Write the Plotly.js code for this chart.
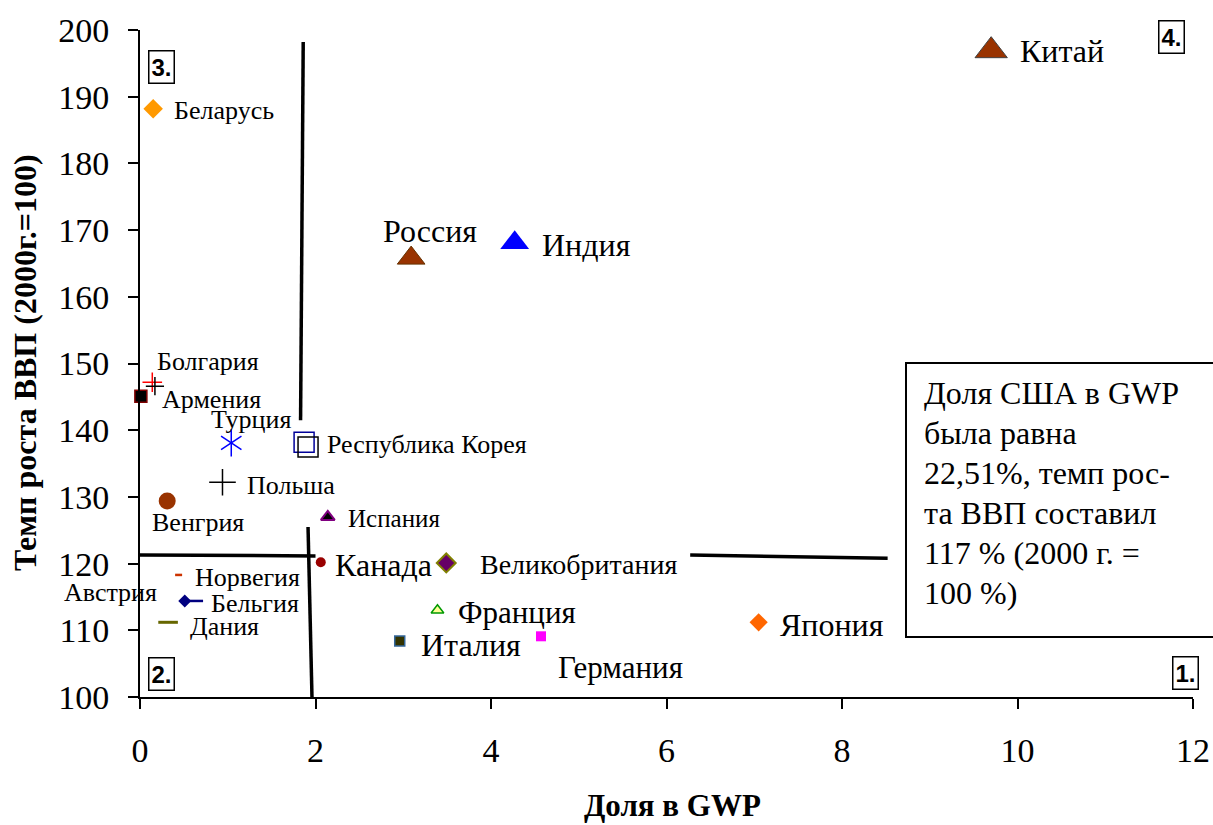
<!DOCTYPE html>
<html><head><meta charset="utf-8">
<script src="https://cdn.plot.ly/plotly-3.0.1.min.js"></script>
<style>html,body{margin:0;padding:0;background:#fff;}#chart{width:1213px;height:825px;}</style>
</head><body><div id="chart"></div>
<script>
// ---- data ----
const countries = ['Китай','Беларусь','Россия','Индия','Болгария','Армения','Турция','Республика Корея','Польша','Венгрия','Испания','Канада','Великобритания','Франция','Италия','Германия','Япония','Норвегия','Бельгия','Дания','Австрия'];
const gwpShare  = [9.70, 0.15, 3.09, 4.27, 0.14, 0.01, 1.04, 1.87, 0.94, 0.31, 2.14, 2.06, 3.49, 3.39, 2.96, 4.57, 7.05, 0.44, 0.51, 0.32, 0.00];
const gdpGrowth = [196.9, 188.2, 165.8, 168.1, 147.2, 145.1, 138.1, 138.2, 132.2, 129.4, 127.0, 120.2, 120.1, 113.0, 108.4, 109.1, 111.2, 118.3, 114.4, 111.2, 115.6];
// secondary marker parts (overlapping symbols in the original)
const extraShare  = [0.17, 1.915, 0.615, 1.04];
const extraGrowth = [146.6, 137.5, 114.4, 138.1];
// quadrant divider segments
const dividerShare  = [1.86, 1.83, null, 0, 2.0, null, 1.915, 1.96, null, 6.27, 8.52];
const dividerGrowth = [198.2, 141.5, null, 121.3, 121.15, null, 125.5, 100, null, 121.3, 120.8];
const xTickVals = [0, 2, 4, 6, 8, 10, 12];
const yTickVals = [100, 110, 120, 130, 140, 150, 160, 170, 180, 190, 200];
const quadrantLabels = ['1.', '2.', '3.', '4.'];
const quadrantShare  = [11.92, 0.25, 0.25, 11.75];
const quadrantGrowth = [103.6, 103.4, 194.5, 199.0];
const noteLines = ['Доля США в GWP', 'была равна', '22,51%, темп рос-', 'та ВВП составил', '117 % (2000 г. =', '100 %)'];
const xTitle = 'Доля в GWP';
const yTitle = 'Темп роста ВВП (2000г.=100)';

// ---- styles ----
const symbols = ['triangle-up','diamond','triangle-up','triangle-up','cross-thin','square','y-up','square-open','cross-thin','circle','triangle-up','circle','diamond','triangle-up','square','square','diamond','line-ew','diamond','line-ew','line-ew'];
const colors = ['#993300','#FF9900','#993300','#0000FF','#FF0000','#000000','#0000FF','#000099','#000000','#993300','#000000','#990000','#660066','#FFFF99','#333300','#FF00FF','#FF6600','#CC3300','#000080','#666600','#000000'];
const sizes = [28,15,24,25,14,12,17,20,19,17,12,10,14.5,11,10,10,14,5,10,14,0];
const lineColors = ['#404040','#FF9900','#663300','#0000FF','#FF0000','#800000','#0000FF','#000099','#000000','#993300','#800080','#990000','#808000','#009900','#336699','#FF00FF','#FF6600','#CC3300','#000080','#666600','#000000'];
const lineWidths = [1,0,1,0,1.5,1.5,1.5,1.5,1.5,0,2,0,2,1.5,1.5,0,0,2.5,0,3,0];
const labelSize = [32,26,32,32,26,26,26,26,26,26,25,32,28,31,32,31,32,26,26,26,26];
const labelAnchor = ['left','left','center','left','left','left','center','left','left','center','left','left','left','left','left','center','left','left','left','left','center'];
const labelDx = [27,19,19,25,3,19,20,21,23,31,18,12,32,19,19,79,19,14,24,20,-30];
const labelDy = [0,-2,27,-2,21,-3,23,-2,-3,-22,-2,-3,-2,-2,-4,-31,-3,-3,-3,-4,0];

const FONT = 'Liberation Serif';

const traces = [
  {x: dividerShare, y: dividerGrowth, mode: 'lines', line: {color: '#000', width: 3.5}, hoverinfo: 'skip', connectgaps: false},
  {x: gwpShare, y: gdpGrowth, text: countries, mode: 'markers', cliponaxis: false,
   marker: {symbol: symbols, color: colors, size: sizes, opacity: 1, line: {color: lineColors, width: lineWidths}}},
  {x: extraShare, y: extraGrowth, mode: 'markers', cliponaxis: false,
   marker: {symbol: ['cross-thin','square-open','line-ew','y-down'], color: ['#000','#000','#000080','#0000FF'], size: [13,20,13,17], opacity: 1,
            line: {color: ['#000','#000','#000080','#0000FF'], width: [1.5,1.5,2.5,1.5]}}}
];

const annotations = countries.map((c, i) => ({
  x: gwpShare[i], y: gdpGrowth[i], xref: 'x', yref: 'y', text: c, showarrow: false,
  xanchor: labelAnchor[i], yanchor: 'middle', xshift: labelDx[i], yshift: labelDy[i],
  font: {family: FONT, size: labelSize[i], color: '#000'}
}));
quadrantLabels.forEach((q, i) => annotations.push({
  x: quadrantShare[i], y: quadrantGrowth[i], xref: 'x', yref: 'y', text: '<b>' + q + '</b>', showarrow: false,
  xanchor: 'center', yanchor: 'middle', bordercolor: '#000', borderwidth: 1.5, borderpad: 2, bgcolor: '#fff',
  font: {family: 'Liberation Sans', size: 24, color: '#000'}
}));
// pixel -> paper helpers (plot area 140..1193 x 30..697)
const px = v => (v - 140) / 1053, py = v => (697 - v) / 667;
noteLines.forEach((t, i) => annotations.push({
  x: px(922), y: py(393 + 40 * i), xref: 'paper', yref: 'paper', text: t, showarrow: false,
  xanchor: 'left', yanchor: 'middle', font: {family: FONT, size: 32, color: '#000'}
}));
annotations.push({x: px(25), y: py(363), xref: 'paper', yref: 'paper', text: '<b>' + yTitle + '</b>', textangle: -90,
  showarrow: false, xanchor: 'center', yanchor: 'middle', font: {family: FONT, size: 32, color: '#000'}});
annotations.push({x: px(672), y: py(805), xref: 'paper', yref: 'paper', text: '<b>' + xTitle + '</b>',
  showarrow: false, xanchor: 'center', yanchor: 'middle', font: {family: FONT, size: 31, color: '#000'}});

const layout = {
  width: 1213, height: 825, margin: {l: 140, r: 20, t: 30, b: 128},
  paper_bgcolor: '#fff', plot_bgcolor: '#fff', showlegend: false,
  xaxis: {range: [0, 12], tickvals: xTickVals, showgrid: false, zeroline: false, showline: true, linecolor: '#000', linewidth: 2,
          ticks: 'outside', ticklen: 10, tickwidth: 2, tickcolor: '#000', ticklabelstandoff: 12,
          tickfont: {family: FONT, size: 34, color: '#000'}},
  yaxis: {range: [100, 200], tickvals: yTickVals, showgrid: false, zeroline: false, showline: true, linecolor: '#000', linewidth: 2,
          ticks: 'outside', ticklen: 10, tickwidth: 2, tickcolor: '#000', ticklabelstandoff: 12,
          tickfont: {family: FONT, size: 34, color: '#000'}},
  shapes: [{type: 'rect', xref: 'paper', yref: 'paper', x0: px(906), x1: px(1225), y0: py(637), y1: py(363),
            line: {color: '#000', width: 2}, fillcolor: 'rgba(0,0,0,0)'}],
  annotations: annotations
};
Plotly.newPlot('chart', traces, layout, {displayModeBar: false, staticPlot: true});
</script></body></html>
